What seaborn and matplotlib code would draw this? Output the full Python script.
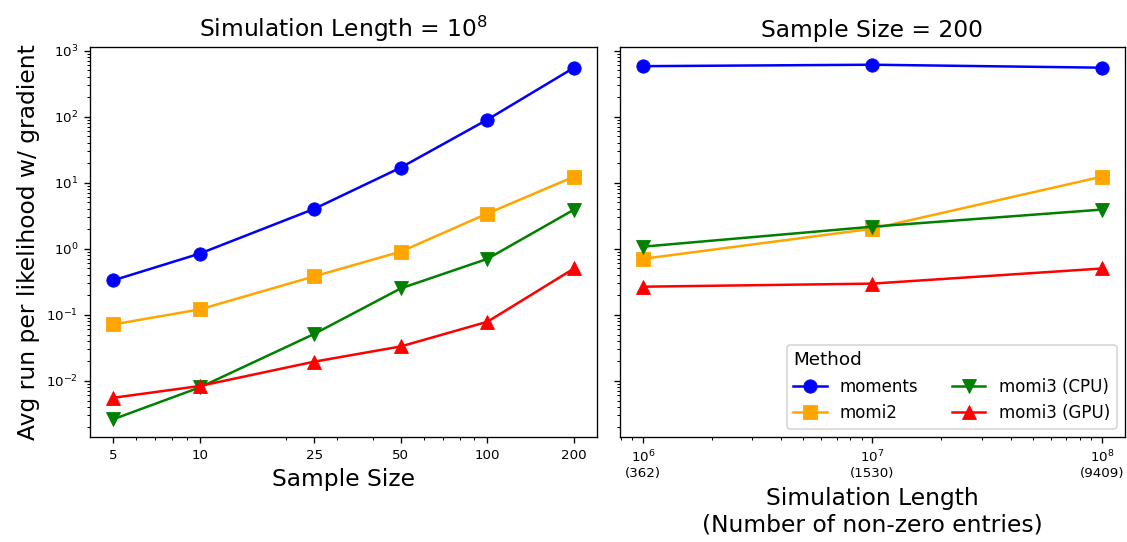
import numpy as np
import pandas as pd
import matplotlib
matplotlib.use("Agg")
import matplotlib.pyplot as plt
import seaborn as sns
from matplotlib.ticker import FixedLocator, FixedFormatter, NullFormatter

methods = ["moments", "momi2", "momi3 (CPU)", "momi3 (GPU)"]
colors = ["blue", "orange", "green", "red"]
markers = ["o", "s", "v", "^"]

sample_sizes = [5, 10, 25, 50, 100, 200]
left_moments = [0.33, 0.84, 4.0, 16.9, 90, 550]
left_momi2 = [0.071, 0.12, 0.38, 0.9, 3.4, 12.3]
left_cpu = [0.0026, 0.0079, 0.051, 0.25, 0.7, 3.9]
left_gpu = [0.0055, 0.0083, 0.0194, 0.033, 0.078, 0.50]

sim_lengths = [1e6, 1e7, 1e8]
nonzero = [362, 1530, 9409]
right_moments = [580, 610, 550]
right_momi2 = [0.70, 2.0, 12.3]
right_cpu = [1.07, 2.15, 3.9]
right_gpu = [0.265, 0.295, 0.50]

left_vals = [left_moments, left_momi2, left_cpu, left_gpu]
right_vals = [right_moments, right_momi2, right_cpu, right_gpu]

DPI = 120
fig = plt.figure(figsize=(1127 / DPI, 542 / DPI), dpi=DPI)
ax1 = fig.add_axes([0.0799, 0.1937, 0.4499, 0.7196])
ax2 = fig.add_axes([0.5501, 0.1937, 0.448, 0.7196], sharey=ax1)

for m, c, mk, vals in zip(methods, colors, markers, left_vals):
    df = pd.DataFrame({"x": sample_sizes, "y": vals})
    sns.lineplot(data=df, x="x", y="y", ax=ax1, color=c, marker=mk,
                 markersize=8, markeredgecolor=c, markeredgewidth=0.5,
                 linewidth=1.5, label=m, legend=False)
for m, c, mk, vals in zip(methods, colors, markers, right_vals):
    df = pd.DataFrame({"x": sim_lengths, "y": vals})
    sns.lineplot(data=df, x="x", y="y", ax=ax2, color=c, marker=mk,
                 markersize=8, markeredgecolor=c, markeredgewidth=0.5,
                 linewidth=1.5, label=m, legend=False)

for ax in (ax1, ax2):
    ax.set_xscale("log")
    ax.set_yscale("log")
    ax.tick_params(axis="both", which="major", labelsize=8)

ax1.xaxis.set_major_locator(FixedLocator(sample_sizes))
ax1.xaxis.set_major_formatter(FixedFormatter([str(s) for s in sample_sizes]))
ax1.xaxis.set_minor_formatter(NullFormatter())

ax2.xaxis.set_major_locator(FixedLocator(sim_lengths))
ax2.xaxis.set_major_formatter(FixedFormatter(
    [f"$10^{{{int(np.log10(s))}}}$\n({n})" for s, n in zip(sim_lengths, nonzero)]))
ax2.xaxis.set_minor_formatter(NullFormatter())
plt.setp(ax2.get_yticklabels(), visible=False)

ax1.set_title("Simulation Length = $10^8$", fontsize=14)
ax2.set_title("Sample Size = 200", fontsize=14)
ax1.set_xlabel("Sample Size", fontsize=14)
ax1.set_ylabel("Avg run per likelihood w/ gradient", fontsize=14)
ax2.set_xlabel("Simulation Length\n(Number of non-zero entries)", fontsize=14)
ax2.set_ylabel("")

ax2.legend(title="Method", ncol=2, loc="lower right", fontsize=10,
           title_fontsize=11, alignment="left")

fig.savefig("out.png", dpi=DPI)
